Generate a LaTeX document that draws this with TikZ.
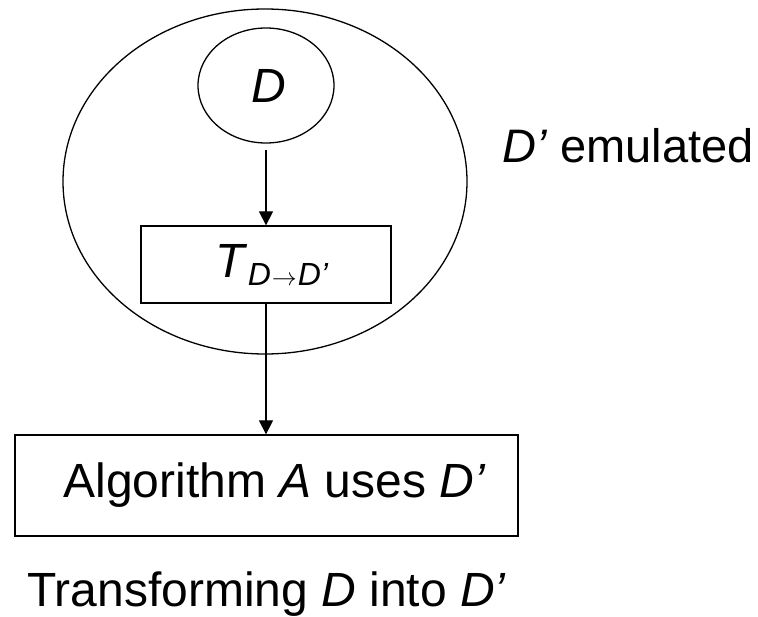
\documentclass[tikz,border=0pt]{standalone}
\usepackage{fontspec}
\setmainfont{Liberation Sans}
\usetikzlibrary{shapes.geometric,arrows.meta}
\newcommand{\bigtxt}{\fontsize{48}{52}\selectfont}
\newcommand{\midtxt}{\fontsize{47}{50}\selectfont}
\newcommand{\subtxt}{\fontsize{32}{34}\selectfont}
\begin{document}
\begin{tikzpicture}[x=1pt,y=-1pt,
  line/.style={line width=1.3pt},
  arr/.style={line, -{Triangle[width=14pt,length=14pt]}},
  oval/.style={draw, line width=1.3pt, ellipse, inner sep=0pt},
  boxnode/.style={draw, line width=1.3pt, rectangle, inner sep=0pt},
  lbl/.style={inner sep=0pt, anchor=base west}]
\useasboundingbox (0,0) rectangle (758,617);
\node[oval, minimum width=404pt, minimum height=345pt] (emu) at (265,181.5) {};
\node[oval, minimum width=136pt, minimum height=115pt, font=\bigtxt] (D) at (266,85.5) {\hspace*{6pt}\raisebox{-14pt}{\textit{D}}};
\node[boxnode, minimum width=250pt, minimum height=77pt] (T) at (266,264.5)
  {\hspace*{12pt}\bigtxt\textit{T}\subtxt\raisebox{-8pt}{\textit{D}\kern1pt$\rightarrow$\kern1pt\textit{D’}}};
\node[boxnode, minimum width=503pt, minimum height=101pt, font=\bigtxt] (alg) at (266.5,485.5)
  {\hspace*{16pt}Algorithm \textit{A} uses \textit{D’}};
\node[lbl, font=\midtxt] (emtxt) at (502,163) {\textit{D’} emulated};
\node[lbl, font=\bigtxt] (cap) at (27,606) {Transforming \textit{D} into \textit{D’}};
\draw[arr, shorten <=6pt] (D.south) -- (T.north);
\draw[arr] (T.south) -- (T.south |- alg.north);
\end{tikzpicture}
\end{document}
